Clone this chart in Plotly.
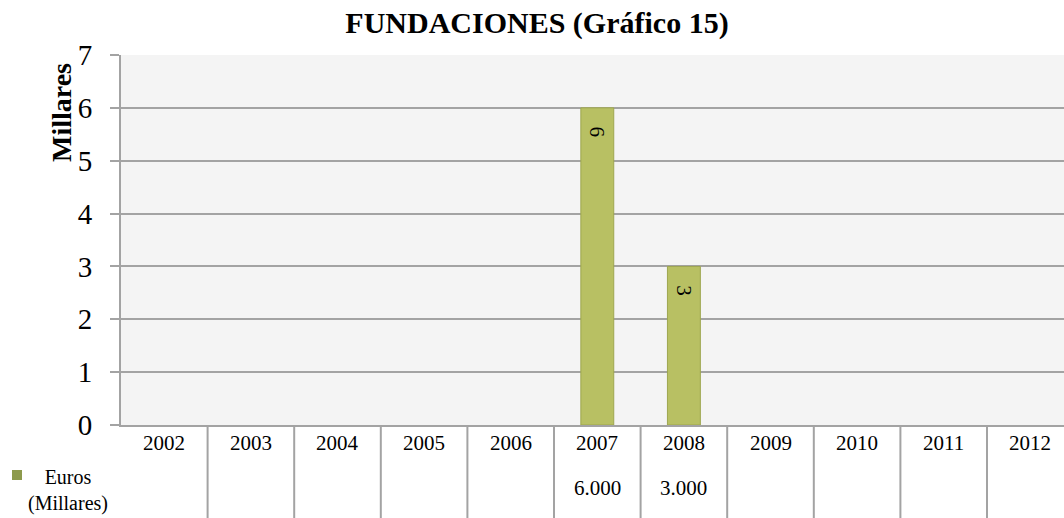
import plotly.graph_objects as go

years = ["2002", "2003", "2004", "2005", "2006", "2007", "2008", "2009", "2010", "2011", "2012"]
euros_millares = [None, None, None, None, None, 6, 3, None, None, None, None]
table_values = ["", "", "", "", "", "6.000", "3.000", "", "", "", ""]
y_ticks = [0, 1, 2, 3, 4, 5, 6, 7]
title_text = "FUNDACIONES (Gráfico 15)"
y_title = "Millares"
series_name = "Euros<br>(Millares)"

W, H = 1064, 518
L, R, T, B = 121, 0, 55, 93
plot_h = H - T - B
plot_w = W - L - R

SERIF = "Liberation Serif"
GRID = "#a3a3a3"

fig = go.Figure()
fig.add_trace(go.Bar(
    x=years, y=euros_millares, width=0.38,
    marker=dict(color="#b8c063", line=dict(color="#9ea64f", width=1)),
    text=[("" if v is None else "\u00a0\u00a0\u00a0" + str(v)) for v in euros_millares],
    textposition="inside", insidetextanchor="end", textangle=90,
    textfont=dict(family=SERIF, size=21, color="black"),
    showlegend=False,
))

shapes = []
for k in range(1, len(years)):
    shapes.append(dict(type="line", xref="x", yref="paper",
                       x0=k - 0.5, x1=k - 0.5, y0=0, y1=-(B + 5) / plot_h,
                       line=dict(color=GRID, width=2), layer="above"))
shapes.append(dict(type="rect", xref="paper", yref="paper",
                   x0=(12 - L) / plot_w, x1=(22 - L) / plot_w,
                   y0=-(480 - (H - B)) / plot_h, y1=-(470 - (H - B)) / plot_h,
                   fillcolor="#8d9a4c", line=dict(width=0)))

annotations = []
for i, (yr, val) in enumerate(zip(years, table_values)):
    annotations.append(dict(x=i, xref="x", yref="paper", y=-(443 - (H - B)) / plot_h,
                            xanchor="center", yanchor="middle",
                            text=yr, showarrow=False, bgcolor="white",
                            font=dict(family=SERIF, size=21, color="black")))
    if val:
        annotations.append(dict(x=i, xref="x", yref="paper", y=-(488 - (H - B)) / plot_h,
                                xanchor="center", yanchor="middle",
                                text=val, showarrow=False, bgcolor="white",
                                font=dict(family=SERIF, size=21, color="black")))
annotations.append(dict(x=(68 - L) / plot_w, xref="paper", y=-(490 - (H - B)) / plot_h, yref="paper",
                        xanchor="center", yanchor="middle",
                        text=series_name, showarrow=False, bgcolor="white",
                        font=dict(family=SERIF, size=20, color="black")))
annotations.append(dict(x=(62 - L) / plot_w, xref="paper", y=((H - B) - 113) / plot_h, yref="paper",
                        xanchor="center", yanchor="middle",
                        text=y_title, showarrow=False, textangle=-90,
                        font=dict(family=SERIF, size=28, color="black", weight="bold")))

fig.update_layout(
    width=W, height=H,
    margin=dict(l=L, r=R, t=T, b=B),
    paper_bgcolor="white", plot_bgcolor="#f4f4f4",
    title=dict(text=title_text, x=537 / W, xanchor="center", y=1 - 22 / H, yanchor="middle",
               font=dict(family=SERIF, size=30, color="black", weight="bold")),
    xaxis=dict(type="category", categoryarray=years, range=[-0.5, -0.5 + plot_w / 86.6],
               showticklabels=False, ticks="", showgrid=False,
               showline=True, linecolor=GRID, linewidth=2),
    yaxis=dict(range=[0, 7], tickvals=y_ticks, showgrid=True, gridcolor=GRID, gridwidth=2,
               zeroline=False, showline=True, linecolor=GRID, linewidth=2,
               ticks="outside", ticklen=9, tickcolor=GRID, tickwidth=2,
               ticklabelstandoff=12,
               tickfont=dict(family=SERIF, size=29, color="black")),
    shapes=shapes, annotations=annotations,
    bargap=0.62,
)

fig.write_html("out.html", config={"displayModeBar": False},
               post_script="document.body.style.margin='0';document.body.style.overflow='hidden';")
